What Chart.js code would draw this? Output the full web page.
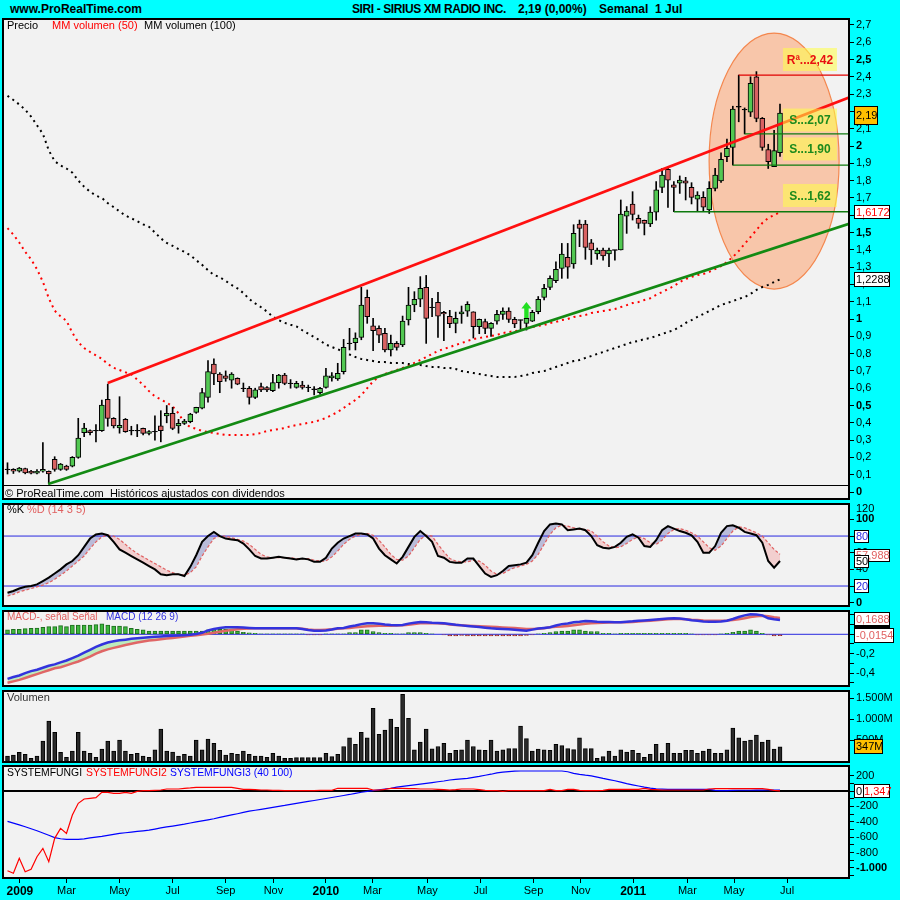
<!DOCTYPE html>
<html>
<head>
<meta charset="utf-8">
<title>SIRI - SIRIUS XM RADIO INC.</title>
<script src="https://cdn.jsdelivr.net/npm/chart.js@4/dist/chart.umd.min.js"></script>
<style>
html,body{margin:0;padding:0;background:#00FFFF;}
#wrap{position:relative;width:900px;height:900px;overflow:hidden;background:#00FFFF;}
#wrap canvas{position:absolute;left:0;}
.lb{position:absolute;white-space:pre;font-family:"Liberation Sans",Arial,sans-serif;font-size:11px;line-height:12px;color:#000;z-index:5;}
.hd{font-weight:bold;font-size:12px;line-height:14px;}
.nw{font-size:10.4px;}
</style>
</head>
<body>
<div id="wrap">
<canvas id="cPrice" width="900" height="482" style="top:18px;width:900px;height:482px"></canvas>
<canvas id="cStoch" width="900" height="104" style="top:503px;width:900px;height:104px"></canvas>
<canvas id="cMacd" width="900" height="77" style="top:610px;width:900px;height:77px"></canvas>
<canvas id="cVol" width="900" height="73" style="top:690px;width:900px;height:73px"></canvas>
<canvas id="cSf" width="900" height="135" style="top:765px;width:900px;height:135px"></canvas>

<div class="lb hd" style="left:10px;top:2px">www.ProRealTime.com</div>
<div class="lb hd" style="left:352px;top:2px;letter-spacing:-0.4px">SIRI - SIRIUS XM RADIO INC.</div>
<div class="lb hd" style="left:518px;top:2px">2,19 (0,00%)</div>
<div class="lb hd" style="left:599px;top:2px">Semanal  1 Jul</div>

<div class="lb" style="left:7px;top:19px">Precio</div>
<div class="lb" style="left:52px;top:19px;color:#FF0000">MM volumen (50)</div>
<div class="lb" style="left:144px;top:19px">MM volumen (100)</div>
<div class="lb" style="left:5px;top:487px">© ProRealTime.com  Históricos ajustados con dividendos</div>

<div class="lb" style="left:7px;top:503px">%K</div>
<div class="lb" style="left:27px;top:503px;color:#E06060">%D (14 3 5)</div>

<div class="lb" style="left:7px;top:611px;color:#E06060;font-size:10px">MACD-, señal Señal</div>
<div class="lb" style="left:106px;top:611px;color:#3030E0;font-size:10px">MACD (12 26 9)</div>

<div class="lb" style="left:7px;top:691px;color:#333">Volumen</div>

<div class="lb nw" style="left:7px;top:767px">SYSTEMFUNGI</div>
<div class="lb nw" style="left:86px;top:767px;color:#FF0000">SYSTEMFUNGI2</div>
<div class="lb nw" style="left:170px;top:767px;color:#0000FF">SYSTEMFUNGI3 (40 100)</div>
</div>

<script>
// ---------------- DATA (weekly bars) ----------------
const open = [0.131,0.131,0.120,0.135,0.120,0.109,0.120,0.120,0.189,0.131,
 0.150,0.150,0.200,0.343,0.355,0.355,0.355,0.536,0.426,0.370,
 0.420,0.355,0.355,0.368,0.339,0.349,0.382,0.440,0.455,0.382,
 0.397,0.407,0.460,0.484,0.547,0.740,0.682,0.671,0.647,0.657,
 0.599,0.599,0.547,0.609,0.603,0.586,0.632,0.676,0.628,0.605,
 0.618,0.605,0.594,0.574,0.605,0.659,0.653,0.695,0.859,0.863,
 0.894,1.125,0.960,0.946,0.917,0.821,0.859,0.850,0.994,1.081,
 1.114,1.183,1.067,1.096,1.038,1.015,0.975,1.029,1.046,1.042,
 0.955,0.985,0.946,0.988,1.027,1.046,0.998,0.994,0.975,0.988,
 1.042,1.125,1.183,1.221,1.293,1.357,1.318,1.549,1.549,1.441,
 1.376,1.399,1.376,1.399,1.399,1.595,1.665,1.582,1.570,1.549,
 1.618,1.761,1.865,1.775,1.785,1.798,1.761,1.692,1.703,1.630,
 1.755,1.798,1.938,1.992,2.227,2.210,2.195,2.400,2.160,1.980,
 1.880,1.961];
const high = [0.169,0.135,0.142,0.138,0.125,0.130,0.285,0.122,0.204,0.165,
 0.155,0.205,0.426,0.397,0.360,0.390,0.532,0.624,0.430,0.551,
 0.425,0.380,0.390,0.370,0.355,0.440,0.470,0.500,0.490,0.420,
 0.420,0.455,0.490,0.600,0.760,0.770,0.690,0.700,0.690,0.660,
 0.630,0.610,0.600,0.630,0.610,0.680,0.680,0.686,0.650,0.640,
 0.640,0.618,0.609,0.605,0.715,0.690,0.744,0.882,0.946,0.920,
 1.183,1.168,1.004,0.960,0.946,0.907,0.870,1.017,1.183,1.158,
 1.245,1.252,1.119,1.154,1.044,1.050,1.040,1.075,1.100,1.042,
 1.000,1.000,0.980,1.050,1.065,1.065,1.010,0.994,1.004,1.050,
 1.130,1.200,1.250,1.330,1.437,1.437,1.545,1.572,1.570,1.460,
 1.410,1.410,1.410,1.399,1.688,1.650,1.736,1.601,1.572,1.649,
 1.794,1.871,1.880,1.794,1.827,1.819,1.788,1.736,1.736,1.794,
 1.871,1.960,2.040,2.230,2.410,2.220,2.400,2.430,2.165,2.010,
 2.090,2.243];
const low = [0.104,0.107,0.115,0.105,0.104,0.104,0.115,0.046,0.120,0.125,
 0.125,0.145,0.195,0.320,0.330,0.290,0.350,0.380,0.370,0.340,
 0.345,0.330,0.320,0.330,0.330,0.300,0.290,0.400,0.360,0.340,
 0.390,0.400,0.455,0.480,0.520,0.620,0.574,0.640,0.600,0.620,
 0.580,0.508,0.540,0.580,0.580,0.580,0.600,0.620,0.600,0.600,
 0.595,0.580,0.561,0.565,0.600,0.640,0.645,0.682,0.821,0.821,
 0.880,0.975,0.817,0.863,0.810,0.786,0.820,0.840,0.965,1.042,
 1.071,0.859,1.013,0.894,0.875,0.950,0.920,0.975,1.015,0.890,
 0.915,0.915,0.900,0.970,0.997,0.980,0.950,0.940,0.936,0.985,
 1.030,1.110,1.170,1.210,1.235,1.235,1.293,1.418,1.345,1.315,
 1.345,1.340,1.302,1.340,1.399,1.495,1.572,1.524,1.486,1.534,
 1.572,1.730,1.645,1.620,1.726,1.688,1.665,1.626,1.622,1.610,
 1.740,1.790,1.910,1.890,2.140,2.070,2.170,2.140,1.975,1.870,
 1.880,1.940];
const close = [0.131,0.120,0.138,0.110,0.109,0.120,0.131,0.104,0.131,0.162,
 0.131,0.200,0.312,0.370,0.343,0.355,0.503,0.426,0.382,0.385,
 0.349,0.355,0.355,0.339,0.350,0.349,0.355,0.455,0.368,0.397,
 0.410,0.451,0.489,0.574,0.696,0.682,0.638,0.657,0.682,0.624,
 0.599,0.547,0.590,0.590,0.590,0.632,0.676,0.628,0.628,0.628,
 0.605,0.605,0.594,0.599,0.671,0.671,0.686,0.836,0.859,0.890,
 1.081,1.013,0.932,0.907,0.821,0.859,0.836,0.988,1.081,1.114,
 1.177,1.004,1.067,1.017,1.029,0.973,1.004,1.042,1.085,0.955,
 0.998,0.946,0.975,1.027,1.046,0.998,0.971,0.994,1.004,1.038,
 1.114,1.177,1.235,1.287,1.376,1.299,1.495,1.524,1.414,1.399,
 1.399,1.364,1.399,1.399,1.607,1.624,1.605,1.553,1.553,1.618,
 1.746,1.832,1.803,1.761,1.803,1.785,1.703,1.717,1.646,1.755,
 1.832,1.923,1.987,2.214,2.227,2.210,2.362,2.160,1.992,1.909,
 1.973,2.190];
// moving averages (dotted)
const mm50 = [1.525,1.488,1.442,1.388,1.345,1.288,1.215,1.120,1.048,1.015,
 0.990,0.920,0.866,0.832,0.810,0.790,0.770,0.740,0.718,0.705,
 0.692,0.680,0.650,0.620,0.583,0.553,0.535,0.516,0.495,0.455,
 0.400,0.375,0.365,0.353,0.347,0.341,0.335,0.330,0.330,0.330,
 0.330,0.330,0.335,0.341,0.353,0.358,0.364,0.370,0.380,0.387,
 0.393,0.400,0.405,0.416,0.428,0.445,0.462,0.486,0.509,0.532,
 0.560,0.600,0.640,0.665,0.682,0.694,0.705,0.717,0.728,0.746,
 0.763,0.780,0.798,0.815,0.827,0.838,0.850,0.861,0.873,0.884,
 0.890,0.896,0.902,0.908,0.919,0.925,0.930,0.936,0.948,0.954,
 0.960,0.965,0.977,0.983,0.994,1.000,1.012,1.017,1.023,1.035,
 1.040,1.046,1.052,1.058,1.069,1.080,1.092,1.098,1.110,1.120,
 1.139,1.156,1.173,1.190,1.214,1.231,1.243,1.254,1.260,1.272,
 1.289,1.306,1.329,1.358,1.393,1.434,1.474,1.514,1.555,1.584,
 1.601,1.6172];
const mm100 = [2.290,2.266,2.240,2.210,2.170,2.120,2.070,1.975,1.912,1.888,
 1.870,1.846,1.800,1.765,1.736,1.713,1.700,1.670,1.647,1.622,
 1.598,1.582,1.565,1.547,1.533,1.500,1.466,1.440,1.423,1.404,
 1.388,1.368,1.340,1.313,1.282,1.255,1.241,1.220,1.197,1.177,
 1.150,1.115,1.090,1.068,1.043,1.014,0.993,0.978,0.967,0.957,
 0.935,0.915,0.895,0.875,0.852,0.838,0.825,0.810,0.795,0.780,
 0.769,0.763,0.757,0.751,0.751,0.746,0.746,0.746,0.740,0.734,
 0.734,0.728,0.723,0.723,0.717,0.717,0.711,0.699,0.694,0.688,
 0.682,0.676,0.671,0.665,0.665,0.665,0.665,0.671,0.676,0.688,
 0.694,0.699,0.711,0.723,0.734,0.746,0.757,0.763,0.775,0.786,
 0.798,0.809,0.821,0.832,0.844,0.855,0.867,0.873,0.884,0.890,
 0.902,0.913,0.925,0.936,0.954,0.977,0.994,1.012,1.029,1.046,
 1.064,1.081,1.092,1.104,1.116,1.127,1.145,1.168,1.185,1.197,
 1.214,1.2288];
// trend channel and support / resistance levels (bar index, price)
const resistLine = [{x:17, y:0.630}, {x:142.7, y:2.280}];
const supportLine = [{x:6.9, y:0.046}, {x:142.7, y:1.550}];
const levelR242 = [{x:124, y:2.41}, {x:142.7, y:2.41}];
const levelS207 = [{x:125, y:2.07}, {x:142.7, y:2.07}];
const levelS190 = [{x:123, y:1.89}, {x:142.7, y:1.89}];
const levelS162 = [{x:113, y:1.62}, {x:142.7, y:1.62}];
const levelTexts = ['Rª...2,42', 'S...2,07', 'S...1,90', 'S...1,62'];
// stochastic
const stochK = [12,14,17,19,20,22,26,30,35,40, 46,50,57,67,77,82,83,81,73,64,
 60,56,52,48,44,40,34,33,34,34, 32,43,57,73,80,85,80,77,76,75,
 71,64,56,53,53,54,55,54,53,52, 53,52,49,49,54,65,72,77,80,83,
 83,82,77,65,57,52,47,55,67,79, 86,80,73,56,54,49,48,48,53,53,
 44,35,31,33,38,44,45,46,48,57, 72,86,94,95,94,87,88,89,87,80,
 69,66,65,67,72,79,82,78,68,67, 75,87,92,89,86,84,81,73,60,60,
 68,84,92,93,90,85,83,81,72,50, 42,50];
const stochD = [8,10,13,15,17,19,21,24,28,33, 38,44,50,56,65,73,79,81,80,76,
 70,64,59,55,51,47,43,39,36,34, 33,36,43,56,67,77,80,80,78,76,
 74,70,64,58,55,54,54,54,54,53, 53,53,51,50,50,55,62,70,76,80,
 82,83,81,75,67,58,52,51,56,66, 76,81,80,70,61,53,50,49,49,51,
 50,45,38,34,35,39,42,44,46,50, 58,70,82,90,93,92,90,88,88,86,
 80,73,68,66,67,71,76,79,77,72, 70,75,83,88,89,87,84,80,73,66,
 63,68,77,86,91,90,87,84,80,72, 64,57.988];
// MACD
const macdLine = [-0.46,-0.44,-0.425,-0.40,-0.38,-0.365,-0.345,-0.325,-0.31,-0.29,
 -0.27,-0.245,-0.22,-0.19,-0.16,-0.13,-0.105,-0.085,-0.072,-0.062,
 -0.055,-0.047,-0.04,-0.035,-0.03,-0.026,-0.022,-0.018,-0.015,-0.012,
 -0.009,-0.005,0.003,0.015,0.04,0.055,0.065,0.072,0.072,0.072,
 0.07,0.066,0.062,0.062,0.062,0.062,0.062,0.062,0.062,0.062,
 0.055,0.045,0.037,0.037,0.04,0.05,0.062,0.065,0.08,0.09,
 0.105,0.113,0.113,0.11,0.10,0.095,0.093,0.096,0.11,0.12,
 0.127,0.125,0.12,0.117,0.115,0.106,0.098,0.092,0.086,0.08,
 0.075,0.068,0.062,0.058,0.055,0.052,0.048,0.042,0.036,0.048,
 0.06,0.066,0.072,0.09,0.105,0.112,0.125,0.13,0.137,0.135,
 0.13,0.128,0.126,0.124,0.124,0.13,0.134,0.14,0.143,0.147,
 0.152,0.158,0.162,0.165,0.163,0.155,0.145,0.14,0.132,0.13,
 0.13,0.133,0.14,0.158,0.178,0.195,0.206,0.203,0.195,0.165,
 0.155,0.147];
const signalLine = [-0.50,-0.485,-0.47,-0.45,-0.43,-0.41,-0.39,-0.37,-0.35,-0.34,
 -0.32,-0.30,-0.28,-0.255,-0.23,-0.20,-0.175,-0.155,-0.14,-0.125,
 -0.11,-0.097,-0.085,-0.074,-0.065,-0.058,-0.05,-0.043,-0.037,-0.03,
 -0.022,-0.016,-0.01,-0.003,0.005,0.015,0.027,0.037,0.045,0.052,
 0.057,0.06,0.062,0.062,0.062,0.062,0.062,0.062,0.062,0.062,
 0.058,0.05,0.044,0.044,0.048,0.052,0.056,0.062,0.066,0.072,
 0.078,0.084,0.086,0.088,0.089,0.089,0.09,0.092,0.098,0.105,
 0.113,0.115,0.115,0.113,0.11,0.10,0.097,0.093,0.089,0.086,
 0.083,0.08,0.078,0.075,0.071,0.068,0.064,0.06,0.055,0.055,
 0.058,0.062,0.072,0.078,0.08,0.085,0.093,0.10,0.108,0.113,
 0.117,0.12,0.122,0.124,0.124,0.125,0.128,0.132,0.136,0.14,
 0.145,0.15,0.155,0.158,0.158,0.155,0.15,0.147,0.142,0.14,
 0.14,0.14,0.142,0.147,0.155,0.165,0.178,0.186,0.19,0.185,
 0.175,0.1688];
const macdHist = [0.045,0.052,0.052,0.058,0.062,0.065,0.072,0.079,0.079,0.089,
 0.079,0.096,0.096,0.096,0.096,0.10,0.107,0.096,0.086,0.086,
 0.079,0.062,0.052,0.045,0.034,0.034,0.034,0.034,0.034,0.034,
 0.034,0.034,0.034,0.034,0.045,0.052,0.052,0.052,0.045,0.034,
 0.021,0.014,0.010,0.003,0.003,0.003,0.003,0.003,0.003,0.003,
 0.003,-0.007,-0.007,-0.007,0.003,0.003,0.003,0.003,0.017,0.017,
 0.045,0.045,0.027,0.017,0.010,0.010,0.003,0.003,0.017,0.017,
 0.017,0.010,0.005,0.0,-0.005,-0.017,-0.017,-0.012,-0.017,-0.017,
 -0.017,-0.017,-0.017,-0.017,-0.017,-0.017,-0.017,-0.017,-0.012,-0.005,
 0.003,0.010,0.017,0.027,0.034,0.034,0.045,0.045,0.034,0.027,
 0.027,0.010,0.010,0.003,0.010,0.010,0.010,0.010,0.010,0.010,
 0.010,0.010,0.010,0.010,0.010,0.010,0.003,-0.007,-0.007,-0.007,
 -0.007,0.003,0.010,0.020,0.034,0.034,0.045,0.034,0.010,-0.007,
 -0.017,-0.0154];
// volume (millions)
const volume = [130,154,217,170,75,130,485,957,690,217,
 98,248,690,248,193,98,295,485,248,508,
 248,170,193,130,98,273,768,248,224,130,
 170,130,508,273,532,430,264,154,193,170,
 248,170,130,130,98,193,130,75,75,90,
 90,90,90,90,193,114,170,355,561,403,
 690,561,1257,640,745,1005,808,1588,1020,273,
 461,768,297,355,430,193,264,273,508,355,
 273,264,508,248,273,305,305,839,540,248,
 295,273,264,403,375,305,282,561,305,305,
 75,114,248,130,273,224,264,193,98,170,
 403,193,430,193,193,264,264,193,248,295,
 193,193,273,792,561,485,508,627,461,508,
 295,347];
// SYSTEMFUNGI
const systemFungi2 = [-1035,-1069,-874,-1048,-1017,-853,-745,-918,-615,-485,
 -550,-312,-160,-104,-95,-87,-17,-17,-30,-30,
 -17,-30,-4,4,4,9,13,26,26,26,
 35,40,48,48,48,48,48,48,48,35,
 22,22,17,13,13,9,9,4,4,4,
 4,4,4,9,9,9,35,35,35,35,
 35,35,13,13,22,35,35,35,30,30,
 26,26,26,22,17,13,17,26,26,26,
 17,9,4,4,-4,4,4,4,4,4,
 4,4,22,4,4,22,22,9,4,4,
 4,9,22,22,22,22,22,22,35,22,
 17,13,13,13,13,13,13,13,13,26,
 30,30,30,30,30,30,30,30,30,20,
 9,1.347];
const systemFungi3 = [-395,-418,-440,-465,-490,-517,-545,-575,-605,-620,
 -628,-628,-628,-622,-610,-600,-590,-577,-564,-551,
 -542,-533,-525,-517,-508,-494,-480,-467,-455,-442,
 -430,-416,-402,-388,-374,-360,-343,-327,-311,-295,
 -278,-262,-250,-238,-225,-212,-199,-187,-173,-160,
 -148,-135,-123,-110,-97,-84,-71,-58,-45,-30,
 -16,-5,6,16,26,36,50,60,70,80,
 90,100,110,120,130,143,150,157,165,178,
 190,205,218,235,246,252,258,260,260,260,
 260,260,260,260,260,250,228,215,205,197,
 180,163,148,133,115,95,80,65,50,37,
 27,24,22,22,22,22,22,22,22,20,
 8,4,6,8,10,10,10,12,12,13,
 13,13];
// axis ticks
const priceTicks = [0,0.1,0.2,0.3,0.4,0.5,0.6,0.7,0.8,0.9,1,1.1,1.2,1.3,1.4,1.5,1.6,1.7,1.8,1.9,2,2.1,2.2,2.3,2.4,2.5,2.6,2.7];
const priceBold = [0,0.5,1,1.5,2,2.5];
const stochTicks = [0,20,40,60,80,100,120];
const stochBold = [0,100];
const macdTicks = [-0.5,-0.4,-0.3,-0.2,-0.1,0,0.1,0.2];
const macdLabeled = [-0.4,-0.2];
const volTicks = [500,1000,1500];
const sfTicks = [-1100,-1000,-900,-800,-700,-600,-500,-400,-300,-200,-100,0,100,200];
const sfLabeled = [-1000,-800,-600,-400,-200,0,200];
const monthTickPos = [2.1,10,19,28,37,45.1,54,61.9,71.2,80.2,89.2,97.2,106.1,115.3,123.2,132.2];
const monthLabels = ['2009','Mar','May','Jul','Sep','Nov','2010','Mar','May','Jul','Sep','Nov','2011','Mar','May','Jul'];
const yearLabels = ['2009','2010','2011'];

// ---------------- RENDERING ----------------
const FONT = '"Liberation Sans", Arial, Helvetica, sans-serif';
const XMIN = -0.763, XMAX = 142.70;
const GREEN = '#52C852', RED = '#D86262';
const idx = close.map((_, i) => i);
const pts = arr => arr.map((v, i) => ({x: i, y: v}));
const comma = (v, d) => v.toFixed(d).replace('.', ',');

function fmtPrice(v) { const r = Math.round(v * 10) / 10; return String(r).replace('.', ','); }

function hiddenX() {
  return {type: 'linear', min: XMIN, max: XMAX, display: false, offset: false, grid: {display: false}};
}
function yAxis(min, max, ticks, labelFn, boldSet) {
  return {
    type: 'linear', position: 'right', min: min, max: max,
    afterBuildTicks: s => { s.ticks = ticks.map(v => ({value: v})); },
    afterFit: s => { s.width = 51; s.paddingTop = 0; s.paddingBottom = 0; },
    grid: {drawOnChartArea: false, drawTicks: true, tickLength: 5, color: '#000', lineWidth: 1},
    border: {display: false},
    ticks: {
      autoSkip: false, padding: 2, color: '#000',
      callback: v => labelFn(v),
      font: c => ({family: FONT, size: 11, weight: (c.tick && boldSet.includes(c.tick.value)) ? 'bold' : 'normal'})
    }
  };
}
function baseOptions(scales, extraPlugins) {
  return {
    responsive: false, maintainAspectRatio: false, animation: false, devicePixelRatio: 1,
    events: [],
    layout: {padding: {left: 3, right: 0, top: 0, bottom: 0}},
    plugins: Object.assign({legend: {display: false}, tooltip: {enabled: false},
      filler: {drawTime: 'beforeDatasetsDraw'}}, extraPlugins || {}),
    elements: {point: {radius: 0}},
    scales: scales
  };
}
function valBox(c, x, top, w, h, text, color, fill) {
  c.save();
  c.fillStyle = fill; c.fillRect(x, Math.round(top), w, h);
  c.strokeStyle = '#000'; c.lineWidth = 1;
  c.strokeRect(x + 0.5, Math.round(top) + 0.5, w - 1, h - 1);
  c.fillStyle = color; c.font = '11px ' + FONT; c.textAlign = 'left'; c.textBaseline = 'middle';
  c.fillText(text, x + 2, Math.round(top) + h / 2 + 0.5);
  c.restore();
}
function hLine(chart, v, color, width) {
  const c = chart.ctx, a = chart.chartArea, y = chart.scales.y.getPixelForValue(v);
  c.save(); c.strokeStyle = color; c.lineWidth = width;
  c.beginPath(); c.moveTo(a.left, y); c.lineTo(a.right, y); c.stroke(); c.restore();
}

Chart.register({
  id: 'panelBg',
  beforeDraw(chart) {
    const a = chart.chartArea, c = chart.ctx;
    c.save(); c.fillStyle = '#F2F2F2'; c.fillRect(a.left, a.top, a.right - a.left, a.bottom - a.top); c.restore();
  },
  afterDraw(chart) {
    const a = chart.chartArea, c = chart.ctx;
    c.save(); c.strokeStyle = '#000'; c.lineWidth = 2;
    c.strokeRect(a.left, a.top + 1, a.right - a.left, a.bottom - a.top - 2);
    c.restore();
  }
});

// ---- price panel ----
const last = close.length - 1;
const bodies = idx.map(i => ({x: i, y: open[i] === close[i] ? [close[i] - 0.002, close[i] + 0.002]
  : [Math.min(open[i], close[i]), Math.max(open[i], close[i])]}));
const wicks = idx.map(i => ({x: i, y: [low[i], high[i]]}));
const bodyColors = idx.map(i => close[i] > open[i] ? GREEN : (close[i] < open[i] ? RED : '#000'));

const priceDeco = {
  id: 'priceDeco',
  beforeDatasetsDraw(chart) {
    const c = chart.ctx, xs = chart.scales.x, ys = chart.scales.y;
    c.save();
    c.beginPath();
    c.ellipse(xs.getPixelForValue(130), ys.getPixelForValue(1.913), 65, 128, 0, 0, Math.PI * 2);
    c.fillStyle = '#F8C6AA'; c.fill();
    c.strokeStyle = '#F4874E'; c.lineWidth = 1.2; c.stroke();
    c.restore();
  },
  afterDatasetsDraw(chart) {
    const c = chart.ctx, xs = chart.scales.x, ys = chart.scales.y, a = chart.chartArea;
    c.save();
    c.strokeStyle = '#000'; c.lineWidth = 1;
    c.beginPath(); c.moveTo(a.left, 467.5); c.lineTo(a.right, 467.5); c.stroke();
    const boxY = [2.5, 2.15, 1.983, 1.714];
    const bx = xs.getPixelForValue(131.5);
    levelTexts.forEach((t, k) => {
      const yc = ys.getPixelForValue(boxY[k]);
      c.fillStyle = 'rgba(255,255,70,0.55)';
      c.fillRect(bx, yc - 11.5, 54, 23);
      c.font = 'bold 12px ' + FONT; c.textAlign = 'center'; c.textBaseline = 'middle';
      c.fillStyle = k === 0 ? '#E81010' : '#1C8A1C';
      c.fillText(t, bx + 27, yc + 1);
    });
    const ax = xs.getPixelForValue(88), ay1 = ys.getPixelForValue(1.098), ay2 = ys.getPixelForValue(1.006);
    c.fillStyle = '#22E022';
    c.beginPath();
    c.moveTo(ax, ay1); c.lineTo(ax + 5, ay1 + 6.5); c.lineTo(ax + 2.2, ay1 + 6.5); c.lineTo(ax + 2.2, ay2);
    c.lineTo(ax - 2.2, ay2); c.lineTo(ax - 2.2, ay1 + 6.5); c.lineTo(ax - 5, ay1 + 6.5); c.closePath(); c.fill();
    c.restore();
  },
  afterDraw(chart) {
    const c = chart.ctx, ys = chart.scales.y;
    valBox(c, 854, ys.getPixelForValue(close[last]) - 7, 24, 19, comma(close[last], 2), '#000', '#FFC000');
    valBox(c, 854, ys.getPixelForValue(mm50[last]) - 7, 36, 14, comma(mm50[last], 4), '#FF0000', '#FFFFFF');
    valBox(c, 854, ys.getPixelForValue(mm100[last]) - 7, 36, 15, comma(mm100[last], 4), '#000', '#FFFFFF');
  }
};

new Chart(document.getElementById('cPrice'), {
  type: 'bar',
  data: {datasets: [
    {type: 'line', data: resistLine, borderColor: '#FF1010', borderWidth: 2.7, pointRadius: 0, order: 0},
    {type: 'line', data: supportLine, borderColor: '#138A13', borderWidth: 2.7, pointRadius: 0, order: 0},
    {type: 'line', data: levelR242, borderColor: '#E00000', borderWidth: 1.2, pointRadius: 0, order: 0},
    {type: 'line', data: levelS207, borderColor: '#0E7A0E', borderWidth: 1.3, pointRadius: 0, order: 0},
    {type: 'line', data: levelS190, borderColor: '#0E7A0E', borderWidth: 1.3, pointRadius: 0, order: 0},
    {type: 'line', data: levelS162, borderColor: '#0E7A0E', borderWidth: 1.3, pointRadius: 0, order: 0},
    {type: 'bar', data: bodies, barThickness: 5, grouped: false, backgroundColor: bodyColors,
      borderColor: '#000', borderWidth: 1, borderSkipped: false, order: 1},
    {type: 'bar', data: wicks, barThickness: 1, grouped: false, backgroundColor: '#000', borderWidth: 0, order: 2},
    {type: 'line', data: pts(mm50), borderColor: '#FF0000', borderWidth: 2, borderDash: [2, 4], pointRadius: 0, order: 3},
    {type: 'line', data: pts(mm100), borderColor: '#000', borderWidth: 2, borderDash: [2, 4], pointRadius: 0, order: 3}
  ]},
  options: baseOptions({x: hiddenX(), y: yAxis(-0.0462, 2.7399, priceTicks, fmtPrice, priceBold)}),
  plugins: [priceDeco]
});

// ---- stochastic panel ----
const stochDeco = {
  id: 'stochDeco',
  beforeDatasetsDraw(chart) { hLine(chart, 80, '#2828E0', 1); hLine(chart, 20, '#2828E0', 1); },
  afterDraw(chart) {
    const c = chart.ctx, ys = chart.scales.y;
    c.save(); c.fillStyle = '#000'; c.font = '11px ' + FONT; c.textAlign = 'left'; c.textBaseline = 'middle';
    c.fillText('120', 856, ys.getPixelForValue(120) + 6); c.restore();
    valBox(c, 854, ys.getPixelForValue(80) - 6, 15, 13, '80', '#2828E0', '#FFFFFF');
    valBox(c, 854, ys.getPixelForValue(stochD[last]) - 5, 36, 13, comma(stochD[last], 3), '#E06060', '#FFFFFF');
    valBox(c, 854, ys.getPixelForValue(stochK[last]) - 6, 15, 13, String(Math.round(stochK[last])), '#000', '#FFFFFF');
    valBox(c, 854, ys.getPixelForValue(20) - 7, 15, 14, '20', '#2828E0', '#FFFFFF');
  }
};
new Chart(document.getElementById('cStoch'), {
  type: 'line',
  data: {datasets: [
    {data: pts(stochK), borderColor: '#000', borderWidth: 2, pointRadius: 0, order: 0,
      fill: {target: 1, above: '#BABCD9', below: '#F2CFCF'}},
    {data: pts(stochD), borderColor: '#E06060', borderWidth: 1.2, borderDash: [3, 2], pointRadius: 0, order: 1}
  ]},
  options: baseOptions({x: hiddenX(), y: yAxis(-5.2, 119.7, stochTicks, v => v === 120 ? '' : String(v), stochBold)}),
  plugins: [stochDeco]
});

// ---- MACD panel ----
const macdDeco = {
  id: 'macdDeco',
  beforeDatasetsDraw(chart) { hLine(chart, 0, '#2828E0', 1); },
  afterDraw(chart) {
    const c = chart.ctx, ys = chart.scales.y;
    valBox(c, 854, ys.getPixelForValue(signalLine[last]) - 6, 36, 14, comma(signalLine[last], 4), '#E06060', '#FFFFFF');
    c.save(); c.fillStyle = '#000'; c.fillRect(854, Math.round(ys.getPixelForValue(signalLine[last])) + 8, 36, 3); c.restore();
    valBox(c, 854, ys.getPixelForValue(macdHist[last]) - 7.5, 40, 15, comma(macdHist[last], 4), '#E06060', '#FFFFFF');
  }
};
new Chart(document.getElementById('cMacd'), {
  type: 'bar',
  data: {datasets: [
    {type: 'line', data: pts(macdLine), borderColor: '#3333DD', borderWidth: 2.5, pointRadius: 0, order: 0,
      fill: {target: 1, above: '#BDEBBD', below: '#F2C6C6'}},
    {type: 'line', data: pts(signalLine), borderColor: '#E06666', borderWidth: 2.5, pointRadius: 0, order: 1},
    {type: 'bar', data: pts(macdHist), barThickness: 4, grouped: false,
      backgroundColor: macdHist.map(v => v >= 0 ? '#3DB83D' : '#C84848'),
      borderColor: macdHist.map(v => v >= 0 ? '#1E6E1E' : '#7A2020'), borderWidth: 1, borderSkipped: false, order: 2}
  ]},
  options: baseOptions({x: hiddenX(), y: yAxis(-0.5433, 0.2505, macdTicks,
    v => macdLabeled.includes(v) ? fmtPrice(v) : '', [])}),
  plugins: [macdDeco]
});

// ---- volume panel ----
const volDeco = {
  id: 'volDeco',
  afterDraw(chart) {
    const c = chart.ctx, ys = chart.scales.y;
    valBox(c, 854, ys.getPixelForValue(volume[last]) - 8, 29, 15, volume[last] + 'M', '#000', '#FFC000');
  }
};
new Chart(document.getElementById('cVol'), {
  type: 'bar',
  data: {datasets: [
    {data: pts(volume), barThickness: 4, grouped: false, backgroundColor: '#2A2A2A', borderColor: '#000',
      borderWidth: 1, borderSkipped: false}
  ]},
  options: baseOptions({x: hiddenX(), y: yAxis(-35.5, 1690, volTicks,
    v => (v >= 1000 ? Math.floor(v / 1000) + '.' + String(v % 1000).padStart(3, '0') : String(v)) + 'M', [])}),
  plugins: [volDeco]
});

// ---- SYSTEMFUNGI panel with the time axis ----
const sfDeco = {
  id: 'sfDeco',
  beforeDatasetsDraw(chart) { hLine(chart, 0, '#000', 2); },
  afterDraw(chart) {
    const c = chart.ctx, ys = chart.scales.y;
    valBox(c, 862, ys.getPixelForValue(0) - 7, 28, 14, comma(systemFungi2[last], 3), '#FF0000', '#FFFFFF');
    valBox(c, 854, ys.getPixelForValue(0) - 7, 10, 14, '0', '#000', '#FFFFFF');
  }
};
new Chart(document.getElementById('cSf'), {
  type: 'line',
  data: {datasets: [
    {data: pts(systemFungi2), borderColor: '#FF0000', borderWidth: 1.2, pointRadius: 0},
    {data: pts(systemFungi3), borderColor: '#0000FF', borderWidth: 1.2, pointRadius: 0}
  ]},
  options: baseOptions({
    x: {
      type: 'linear', min: XMIN, max: XMAX, position: 'bottom', offset: false,
      afterBuildTicks: s => { s.ticks = monthTickPos.map(v => ({value: v})); },
      afterFit: s => { s.height = 21; s.paddingLeft = 0; s.paddingRight = 0; },
      grid: {drawOnChartArea: false, drawTicks: true, tickLength: 4, color: '#000', lineWidth: 1},
      border: {display: false},
      ticks: {
        autoSkip: false, maxRotation: 0, minRotation: 0, padding: 1, color: '#000',
        callback: (v, i) => monthLabels[i],
        font: c => yearLabels.includes(monthLabels[c.index]) ? {family: FONT, size: 12, weight: 'bold'} : {family: FONT, size: 11}
      }
    },
    y: yAxis(-1142.9, 337.7, sfTicks,
      v => sfLabeled.includes(v) ? (v === -1000 ? '-1.000' : String(v)) : '', [-1000])
  }),
  plugins: [sfDeco]
});
</script>
</body>
</html>
